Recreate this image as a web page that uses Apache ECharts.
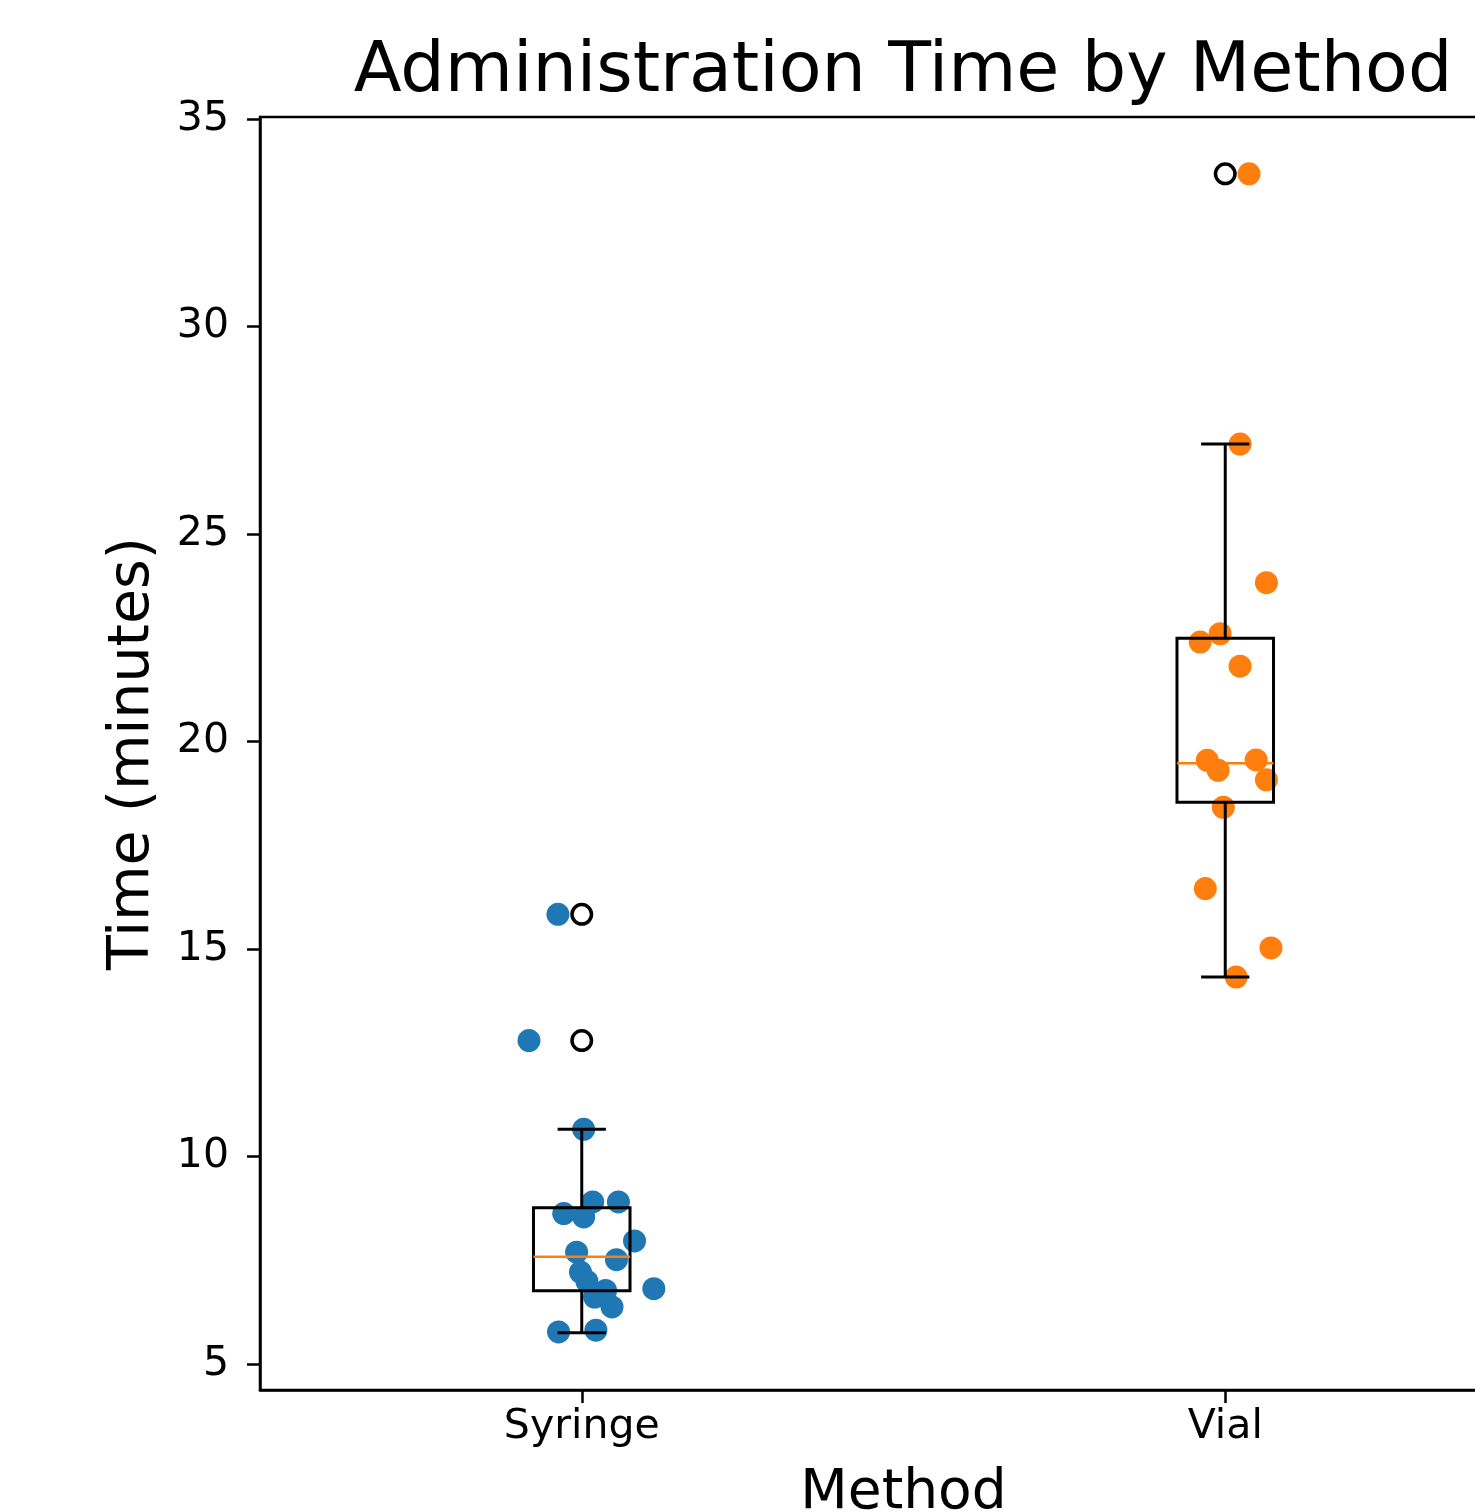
<!DOCTYPE html>
<html>
<head>
<meta charset="utf-8">
<script src="https://cdn.jsdelivr.net/npm/echarts@6/dist/echarts.min.js"></script>
<style>html,body{margin:0;padding:0;background:#fff;}#chart{width:1475px;height:1512px;}</style>
</head>
<body>
<div id="chart"></div>
<script>
// ---- data ----
const categories = ['Syringe', 'Vial'];
const yTicks = [5, 10, 15, 20, 25, 30, 35];

const syringeTimes  = [15.84, 12.80, 10.66, 8.63, 8.55, 8.91, 8.91, 7.97, 7.70, 7.52, 7.22, 7.00, 6.78, 6.62, 6.38, 6.82, 5.78, 5.82];
const syringeJitter = [-0.037, -0.082, 0.003, -0.028, 0.003, 0.017, 0.057, 0.082, -0.008, 0.054, -0.002, 0.008, 0.037, 0.020, 0.047, 0.112, -0.036, 0.022];

const vialTimes  = [33.68, 27.17, 23.83, 22.60, 22.40, 21.82, 19.55, 19.31, 19.56, 19.08, 18.42, 16.46, 15.03, 14.33];
const vialJitter = [0.037, 0.023, 0.064, -0.008, -0.039, 0.023, -0.028, -0.011, 0.048, 0.064, -0.003, -0.031, 0.071, 0.017];

// box statistics per category (whisker low, Q1, median, Q3, whisker high)
const boxLow    = [5.76, 14.33];
const boxQ1     = [6.77, 18.54];
const boxMedian = [7.59, 19.48];
const boxQ3     = [8.77, 22.49];
const boxHigh   = [10.66, 27.17];

const syringeOutliers = [15.84, 12.80];
const vialOutliers    = [33.68];

// ---- build options ----
const BOX_WIDTH = 0.15;
const FONT = 'DejaVu Sans';

const syringePoints = syringeTimes.map((v, i) => [1 + syringeJitter[i], v]);
const vialPoints = vialTimes.map((v, i) => [2 + vialJitter[i], v]);
const boxData = categories.map((c, i) => [i + 1, boxLow[i], boxQ1[i], boxMedian[i], boxQ3[i], boxHigh[i]]);
const outlierData = [];
syringeOutliers.forEach(v => outlierData.push([1, v]));
vialOutliers.forEach(v => outlierData.push([2, v]));

function renderBox(params, api) {
  const x = api.value(0);
  const lo = api.coord([x, api.value(1)]);
  const q1 = api.coord([x, api.value(2)]);
  const med = api.coord([x, api.value(3)]);
  const q3 = api.coord([x, api.value(4)]);
  const hi = api.coord([x, api.value(5)]);
  const bw = api.size([BOX_WIDTH, 0])[0];
  const cw = bw / 2;
  const cx = lo[0];
  const ls = { stroke: '#000', lineWidth: 3, fill: null };
  return {
    type: 'group',
    children: [
      { type: 'line', shape: { x1: cx, y1: q1[1], x2: cx, y2: lo[1] }, style: ls },
      { type: 'line', shape: { x1: cx, y1: q3[1], x2: cx, y2: hi[1] }, style: ls },
      { type: 'line', shape: { x1: cx - cw / 2, y1: lo[1], x2: cx + cw / 2, y2: lo[1] }, style: ls },
      { type: 'line', shape: { x1: cx - cw / 2, y1: hi[1], x2: cx + cw / 2, y2: hi[1] }, style: ls },
      { type: 'rect', shape: { x: cx - bw / 2, y: q3[1], width: bw, height: q1[1] - q3[1] }, style: { fill: null, stroke: '#000', lineWidth: 3 } },
      { type: 'line', shape: { x1: cx - bw / 2, y1: med[1], x2: cx + bw / 2, y2: med[1] }, style: { stroke: '#ff7f0e', lineWidth: 2.5 } }
    ]
  };
}

const chart = echarts.init(document.getElementById('chart'), null, { renderer: 'canvas' });
chart.setOption({
  backgroundColor: '#fff',
  animation: false,
  textStyle: { fontFamily: FONT },
  grid: {
    left: 260, top: 117, right: -72, bottom: 122,
    show: true, borderColor: '#000', borderWidth: 2.5, backgroundColor: 'transparent',
    containLabel: false, outerBoundsMode: 'none'
  },
  graphic: [{
    type: 'text', x: 903, y: 73,
    style: { text: 'Administration Time by Method', font: '70px "DejaVu Sans"', fill: '#000', align: 'center', verticalAlign: 'middle' }
  }],
  xAxis: {
    type: 'value', min: 0.5, max: 2.5,
    name: 'Method', nameLocation: 'middle', nameGap: 76, nameMoveOverlap: false,
    nameTextStyle: { fontSize: 55, color: '#000', fontFamily: FONT },
    axisLine: { show: true, onZero: false, lineStyle: { color: '#000', width: 2.5 } },
    axisTick: { show: true, length: 13, lineStyle: { color: '#000', width: 2.5 }, customValues: [1, 2] },
    axisLabel: { fontSize: 41, color: '#000', margin: 17, fontFamily: FONT, customValues: [1, 2],
      formatter: v => categories[Math.round(v) - 1] || '' },
    splitLine: { show: false }
  },
  yAxis: {
    type: 'value', min: 4.38, max: 35.05,
    name: 'Time (minutes)', nameLocation: 'middle', nameGap: 98, nameMoveOverlap: false,
    nameTextStyle: { fontSize: 57, color: '#000', fontFamily: FONT },
    axisLine: { show: true, onZero: false, lineStyle: { color: '#000', width: 2.5 } },
    axisTick: { show: true, length: 13, lineStyle: { color: '#000', width: 2.5 }, customValues: yTicks },
    axisLabel: { fontSize: 41, color: '#000', margin: 31, fontFamily: FONT, customValues: yTicks,
      formatter: v => String(v) },
    splitLine: { show: false }
  },
  series: [
    { type: 'scatter', name: 'Syringe', data: syringePoints, symbol: 'circle', symbolSize: 23,
      itemStyle: { color: '#1f77b4', opacity: 1 }, z: 1 },
    { type: 'scatter', name: 'Vial', data: vialPoints, symbol: 'circle', symbolSize: 23,
      itemStyle: { color: '#ff7f0e', opacity: 1 }, z: 1 },
    { type: 'custom', name: 'box', data: boxData, renderItem: renderBox,
      encode: { x: 0, y: [1, 2, 3, 4, 5] }, z: 3, silent: true },
    { type: 'scatter', name: 'outliers', data: outlierData, symbol: 'circle', symbolSize: 19.5,
      itemStyle: { color: 'rgba(0,0,0,0)', borderColor: '#000', borderWidth: 3.5, opacity: 1 }, z: 4 }
  ]
});
</script>
</body>
</html>
